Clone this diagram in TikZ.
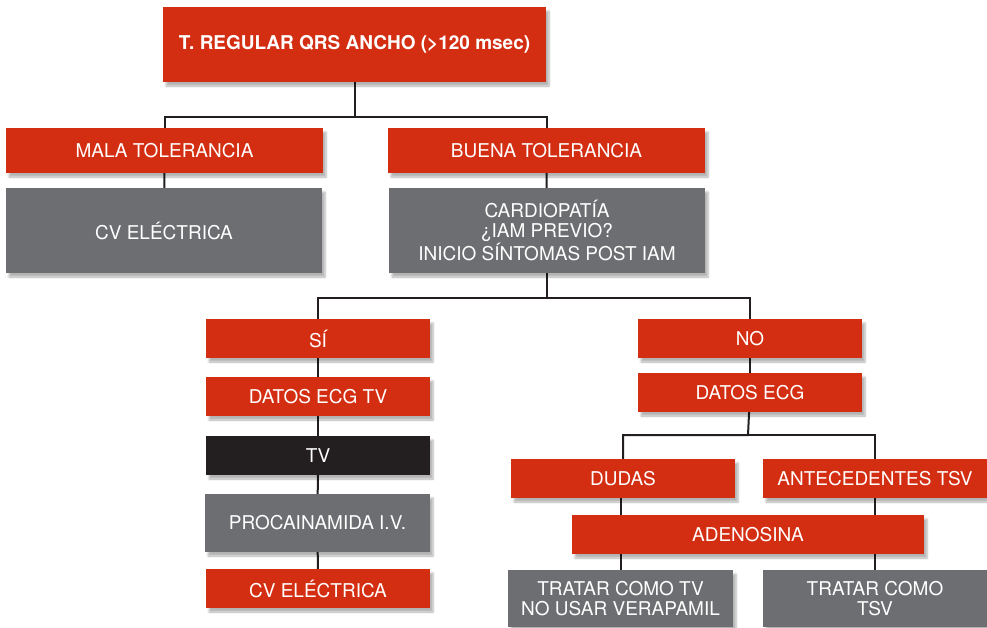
\documentclass[tikz,border=0pt]{standalone}
\usepackage{fontspec}
\setmainfont{TeX Gyre Heros}
\usetikzlibrary{shadows.blur,backgrounds}

\definecolor{algored}{HTML}{D42E12}
\definecolor{algogrey}{HTML}{6D6E71}
\definecolor{algoblack}{HTML}{231F20}

\tikzset{
	box/.style={fill=#1, text=white, inner sep=0pt, outer sep=0pt, align=center,
		font=\fontsize{19}{20}\selectfont,
		blur shadow={shadow xshift=3pt, shadow yshift=-4pt, shadow blur steps=6, shadow opacity=30}},
	redbox/.style={box=algored},
	greybox/.style={box=algogrey},
	blackbox/.style={box=algoblack},
	link/.style={draw=algoblack, line width=2pt}
}

\begin{document}
\begin{tikzpicture}[x=1pt, y=-1pt]
	
	\useasboundingbox (0,0) rectangle (987,627);
	
	\node[redbox, minimum width=383, minimum height=75, font=\fontsize{19}{20}\selectfont\bfseries] (title) at (354.5, 44.5) {T. REGULAR QRS ANCHO (>120 msec)};
	
	\node[redbox, minimum width=317, minimum height=45]  (mala)  at (164.5, 150.5) {MALA TOLERANCIA};
	\node[greybox, minimum width=316, minimum height=85] (cve1)  at (164, 230.5)   {CV ELÉCTRICA};
	\node[redbox, minimum width=317, minimum height=45]  (buena) at (546.5, 150.5) {BUENA TOLERANCIA};
	\node[greybox, minimum width=316, minimum height=85] (cardio) at (547, 230.5)  {CARDIOPATÍA\\¿IAM PREVIO?\\INICIO SÍNTOMAS POST IAM};
	
	\node[redbox, minimum width=224, minimum height=39]   (si)      at (318, 338.5) {SÍ};
	\node[redbox, minimum width=224, minimum height=39]   (datostv) at (318, 396.5) {DATOS ECG TV};
	\node[blackbox, minimum width=224, minimum height=39] (tv)      at (318, 455.5) {TV};
	\node[greybox, minimum width=225, minimum height=58]  (procain) at (317.5, 523) {PROCAINAMIDA I.V.};
	\node[redbox, minimum width=224, minimum height=39]   (cve2)    at (318, 588.5) {CV ELÉCTRICA};
	
	\node[redbox, minimum width=224, minimum height=39] (no)    at (750, 338.5) {NO};
	\node[redbox, minimum width=224, minimum height=39] (datos) at (750, 392.5) {DATOS ECG};
	
	\node[redbox, minimum width=224, minimum height=39] (dudas) at (623, 478.5) {DUDAS};
	\node[redbox, minimum width=224, minimum height=39] (antec) at (875, 478.5) {ANTECEDENTES TSV};
	\node[redbox, minimum width=352, minimum height=39] (adeno) at (748, 534.5) {ADENOSINA};
	
	\node[greybox, minimum width=225, minimum height=57] (tratartv)  at (620.5, 598.5) {TRATAR COMO TV\\NO USAR VERAPAMIL};
	\node[greybox, minimum width=224, minimum height=57] (tratartsv) at (875, 598.5)   {TRATAR COMO\\TSV};
	
	\coordinate (fork1) at (354.5, 117);
	\coordinate (fork2) at (547, 298);
	\coordinate (fork3) at (748, 435);
	
	\begin{scope}[on background layer]
		\draw[link] (title) -- (fork1) -| (mala);
		\draw[link] (fork1) -| (buena);
		\draw[link] (mala) -- (cve1);
		\draw[link] (buena) -- (cardio);
		\draw[link] (cardio) -- (fork2) -| (si);
		\draw[link] (fork2) -| (no);
		\draw[link] (si) -- (datostv);
		\draw[link] (datostv) -- (tv);
		\draw[link] (tv) -- (procain);
		\draw[link] (procain) -- (cve2);
		\draw[link] (no) -- (datos);
		\draw[link] (datos) -- (fork3) -| (dudas);
		\draw[link] (fork3) -| (antec);
		\draw[link] (dudas.south -| tratartv.north) -- (tratartv);
		\draw[link] (antec) -- (tratartsv);
	\end{scope}
	
\end{tikzpicture}
\end{document}
